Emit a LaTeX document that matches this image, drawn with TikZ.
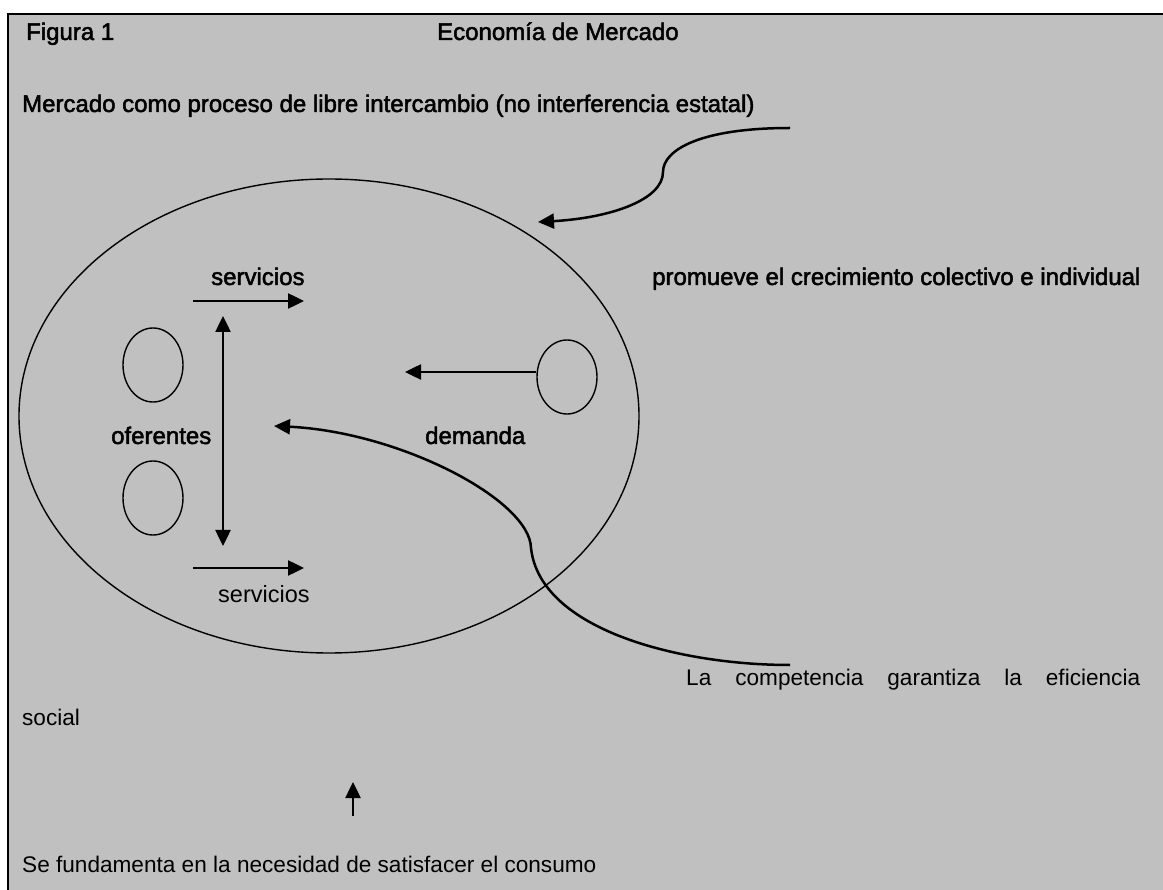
\documentclass[tikz,border=0pt]{standalone}
\usepackage{fontspec}
\setmainfont{Liberation Sans}
\newfontfamily\heavyfont{Liberation Sans}[FakeBold=2]
\usetikzlibrary{arrows.meta,shapes.geometric}
\definecolor{bggray}{HTML}{C0C0C0}
\begin{document}
\begin{tikzpicture}[x=1pt,y=-1pt,
  txt/.style={inner sep=0pt, anchor=base west, font=\fontsize{22.6}{26}\selectfont},
  btxt/.style={txt, font=\heavyfont\fontsize{24}{28}\selectfont},
  arr/.style={line width=2.5pt, -{Triangle[length=16pt,width=15pt]}},
  darr/.style={line width=2.5pt, {Triangle[length=16pt,width=15pt]}-{Triangle[length=16pt,width=15pt]}},
  oval/.style={draw, ellipse, line width=1.4pt, inner sep=0pt, minimum width=60pt, minimum height=74pt},
]
\useasboundingbox (0,0) rectangle (1163,890);
\fill[white] (0,0) rectangle (1163,890);
\fill[bggray] (8,14) rectangle (1163,890);
\draw[line width=2.5pt] (8,891) -- (8,14) -- (1164,14);

% texts
\node[btxt] (fig) at (26,40) {Figura 1};
\node[btxt] (title) at (437,40) {Economía de Mercado};
\node[btxt] (merc) at (22,112) {Mercado como proceso de libre intercambio (no interferencia estatal)};
\node[btxt] (serv1) at (211,285) {servicios};
\node[btxt] (ofer) at (111,444) {oferentes};
\node[btxt] (dem) at (425,444) {demanda};
\node[txt, font=\fontsize{23.5}{27}\selectfont] (serv2) at (218,602) {servicios};
\node[btxt] (prom) at (652,285) {promueve el crecimiento colectivo e individual};
\node[txt] (comp) at (686,685) {\makebox[454pt][s]{La competencia garantiza la eficiencia}};
\node[txt] (soc) at (22,725) {social};
\node[txt] (fund) at (22,872) {Se fundamenta en la necesidad de satisfacer el consumo};

% ellipses
\node[oval, minimum width=620pt, minimum height=474pt] (mkt) at (329,416) {};
\node[oval] (o1) at (153,365) {};
\node[oval] (o2) at (153,498) {};
\node[oval] (d1) at (567,377) {};

% straight arrows
\coordinate (s1a) at (193,301); \coordinate (s1b) at (304,301);
\draw[arr] (s1a) -- (s1b);
\coordinate (s2a) at (193,568); \coordinate (s2b) at (304,568);
\draw[arr] (s2a) -- (s2b);
\coordinate (vt) at (223,316); \coordinate (vb) at (223,546);
\draw[darr] (vt) -- (vb);
\coordinate (dtip) at (405,372);
\draw[arr] (d1.west |- dtip) -- (dtip);
\coordinate (ub) at (353,816); \coordinate (ut) at (353,782);
\draw[arr] (ub) -- (ut);

% curved arrows
\coordinate (c1s) at (790,128);
\draw[arr] (c1s) .. controls (700,128) and (663,150) .. (663,172) .. controls (663,200) and (610,218) .. (538,222);
\coordinate (c2s) at (790,665);
\draw[arr] (c2s) .. controls (680,665) and (540,630) .. (531,548) .. controls (530,500) and (400,432) .. (274,426);
\end{tikzpicture}
\end{document}
